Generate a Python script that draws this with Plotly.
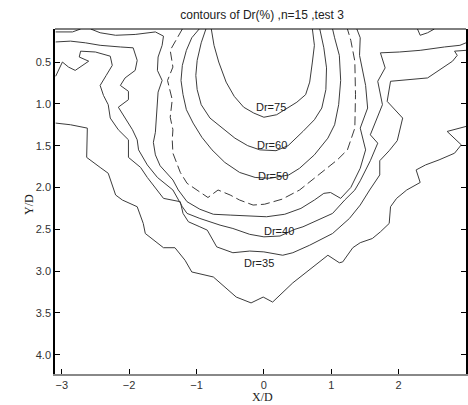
import plotly.graph_objects as go

# ---- contour polylines (X/D, Y/D) ----
l30_x = [-3.09,-2.87,-2.62,-2.62,-2.63,-2.43,-2.31,-2.20,-2.10,-1.88,-1.79,-1.76,-1.49,-1.32,-1.17,-1.07,-0.75,-0.41,-0.19,-0.01,0.13,0.43,0.95,1.12,1.17,1.32,1.43,1.61,1.73,1.86,1.88,1.97,2.12,2.32,2.26,2.40,2.60,2.83,2.93,2.72,3.00]
l30_y = [1.23,1.25,1.29,1.45,1.64,1.76,1.83,2.09,2.15,2.23,2.43,2.55,2.72,2.72,2.87,3.01,3.07,3.31,3.38,3.31,3.37,3.14,2.81,2.90,2.89,2.72,2.66,2.61,2.53,2.43,2.23,2.13,2.03,1.94,1.79,1.73,1.67,1.59,1.49,1.33,1.27]

l35_x = [-3.09,-2.99,-2.90,-2.80,-2.60,-2.74,-2.72,-2.50,-2.28,-2.25,-2.34,-2.43,-2.38,-2.31,-2.28,-2.16,-2.01,-2.01,-1.83,-1.73,-1.49,-1.24,-1.20,-1.12,-0.95,-0.84,-0.70,-0.46,-0.21,0.0,0.28,0.43,0.68,1.02,1.27,1.43,1.57,1.72,1.72,1.86,1.98,2.06,1.83,1.88,2.43,2.80,2.87,2.83,3.00]
l35_y = [0.67,0.50,0.56,0.60,0.49,0.44,0.37,0.38,0.43,0.54,0.66,0.78,0.90,1.01,1.17,1.31,1.43,1.64,1.76,1.88,2.13,2.17,2.31,2.41,2.47,2.51,2.71,2.78,2.76,2.77,2.81,2.78,2.69,2.55,2.37,2.21,2.03,1.85,1.68,1.56,1.44,1.17,0.97,0.73,0.69,0.49,0.42,0.37,0.36]

l40_x = [-3.09,-2.87,-2.65,-2.43,-2.13,-1.94,-1.88,-1.91,-2.06,-2.13,-2.01,-2.01,-2.16,-2.06,-1.95,-1.88,-1.86,-1.73,-1.58,-1.35,-1.21,-1.14,-0.95,-0.65,-0.46,-0.21,0.0,0.24,0.46,0.58,0.80,1.02,1.20,1.35,1.43,1.58,1.69,1.58,1.76,1.69,1.80,1.73,2.01,2.32,2.68,2.91,3.00]
l40_y = [0.26,0.25,0.27,0.30,0.32,0.33,0.48,0.60,0.69,0.78,0.85,0.95,1.04,1.17,1.31,1.43,1.55,1.73,1.88,2.03,2.23,2.31,2.37,2.45,2.49,2.56,2.59,2.58,2.50,2.47,2.39,2.31,2.15,2.03,1.92,1.68,1.47,1.37,1.01,0.73,0.57,0.39,0.38,0.36,0.32,0.30,0.27]

l42_x = [-2.57,-2.43,-2.20,-1.91,-1.61,-1.49,-1.51,-1.57,-1.58,-1.51,-1.57,-1.58,-1.60,-1.61,-1.64,-1.61,-1.54,-1.35,-1.27,-1.14,-0.95,-0.75,-0.50,-0.21,0.04,0.31,0.55,0.75,0.89,0.99,1.14,1.29,1.43,1.51,1.43,1.54,1.51,1.42,1.43,1.38]
l42_y = [0.105,0.15,0.18,0.17,0.14,0.19,0.30,0.44,0.60,0.72,0.86,1.01,1.19,1.34,1.46,1.61,1.74,1.91,2.03,2.17,2.26,2.32,2.33,2.34,2.35,2.32,2.25,2.15,2.07,2.06,2.13,2.00,1.77,1.55,1.29,1.05,0.78,0.42,0.21,0.105]

l45_x = [-1.21,-1.30,-1.39,-1.35,-1.43,-1.36,-1.39,-1.35,-1.36,-1.35,-1.24,-1.14,-0.95,-0.83,-0.68,-0.50,-0.36,-0.16,0.01,0.27,0.53,0.75,0.95,1.09,1.24,1.35,1.36,1.35,1.29,1.24]
l45_y = [0.105,0.24,0.36,0.56,0.72,0.95,1.16,1.31,1.43,1.59,1.82,1.95,2.06,2.12,2.03,2.09,2.15,2.21,2.20,2.14,2.03,1.89,1.77,1.67,1.55,1.29,0.89,0.49,0.24,0.105]

l50_x = [-0.96,-1.07,-1.15,-1.21,-1.23,-1.20,-1.15,-1.05,-0.92,-0.77,-0.58,-0.36,-0.13,0.09,0.37,0.53,0.75,0.95,1.05,1.11,1.14,1.12,1.05,1.02]
l50_y = [0.105,0.21,0.36,0.54,0.72,0.89,1.07,1.23,1.40,1.55,1.70,1.82,1.88,1.89,1.85,1.77,1.61,1.41,1.25,1.01,0.72,0.42,0.21,0.105]

l60_x = [-0.86,-0.93,-0.99,-1.01,-0.99,-0.93,-0.80,-0.62,-0.43,-0.24,-0.06,0.18,0.36,0.58,0.75,0.86,0.92,0.93,0.89,0.83]
l60_y = [0.105,0.27,0.48,0.66,0.83,1.01,1.17,1.29,1.41,1.50,1.55,1.56,1.50,1.33,1.19,1.05,0.83,0.57,0.33,0.105]

l75_x = [-0.78,-0.74,-0.67,-0.56,-0.44,-0.30,-0.15,0.0,0.19,0.34,0.49,0.62,0.68,0.72,0.75,0.72]
l75_y = [0.105,0.30,0.50,0.74,0.91,1.04,1.11,1.16,1.13,1.05,0.98,0.89,0.74,0.50,0.30,0.105]

t1_x = [-3.09,-2.84,-2.72]
t1_y = [0.14,0.14,0.105]
t2_x = [2.28,2.32,2.43,2.53]
t2_y = [0.105,0.18,0.15,0.105]

label_text = ["Dr=75", "Dr=60", "Dr=50", "Dr=40", "Dr=35"]
label_x = [0.10, 0.12, 0.13, 0.22, -0.07]
label_y = [1.04, 1.49, 1.86, 2.52, 2.90]

x_ticks = [-3, -2, -1, 0, 1, 2]
y_ticks = [0.5, 1.0, 1.5, 2.0, 2.5, 3.0, 3.5, 4.0]
y_tick_text = ["0.5", "1.0", "1.5", "2.0", "2.5", "3.0", "3.5", "4.0"]

fig = go.Figure()
solid = [(l30_x, l30_y), (l35_x, l35_y), (l40_x, l40_y), (l42_x, l42_y),
         (l50_x, l50_y), (l60_x, l60_y), (l75_x, l75_y), (t1_x, t1_y), (t2_x, t2_y)]
for xs, ys in solid:
    fig.add_trace(go.Scatter(x=xs, y=ys, mode="lines",
                             line=dict(color="#3c3c3c", width=1), showlegend=False,
                             hoverinfo="skip"))
fig.add_trace(go.Scatter(x=l45_x, y=l45_y, mode="lines",
                         line=dict(color="#3c3c3c", width=1, dash="9px,4px"),
                         showlegend=False, hoverinfo="skip"))

for t, x, y in zip(label_text, label_x, label_y):
    fig.add_annotation(x=x, y=y, text=t, showarrow=False, xref="x", yref="y",
                       font=dict(family="Liberation Sans", size=11, color="#222"))

fig.add_annotation(x=-0.085, y=0.49, xref="paper", yref="paper", text="Y/D",
                   textangle=-90, showarrow=False,
                   font=dict(family="Liberation Serif", size=12, color="#222"))
fig.add_annotation(x=0.506, y=-0.067, xref="paper", yref="paper", text="X/D",
                   showarrow=False, yanchor="middle",
                   font=dict(family="Liberation Serif", size=12, color="#222"))

fig.add_shape(type="line", xref="paper", yref="paper", x0=0, x1=1, y0=1, y1=1,
              line=dict(color="black", width=1))

fig.update_layout(
    width=468, height=405,
    margin=dict(l=55, r=0, t=29, b=31),
    plot_bgcolor="white", paper_bgcolor="white",
    title=dict(text="contours of Dr(%) ,n=15 ,test 3", x=0.56, y=0.963,
               xanchor="center", yanchor="middle",
               font=dict(family="Liberation Sans", size=12, color="#222")),
    xaxis=dict(range=[-3.1, 3.0], tickvals=x_ticks, ticks="inside", ticklen=5,
               tickcolor="black", showline=True, linecolor="#888", linewidth=2,
               showgrid=False, zeroline=False,
               tickfont=dict(family="Liberation Sans", size=11, color="#333")),
    yaxis=dict(range=[4.23, 0.105], tickvals=y_ticks, ticktext=y_tick_text,
               ticks="inside", ticklen=5, tickcolor="black", showline=True,
               linecolor="black", linewidth=1.5, mirror="ticks",
               showgrid=False, zeroline=False,
               tickfont=dict(family="Liberation Sans", size=11, color="#333")),
)

fig.write_html("out.html")
